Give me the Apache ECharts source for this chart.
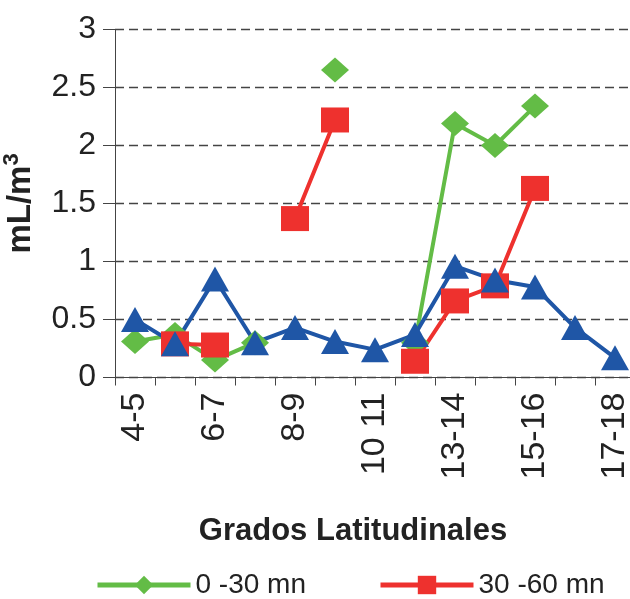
<!DOCTYPE html>
<html>
<head>
<meta charset="utf-8">
<script src="https://cdn.jsdelivr.net/npm/echarts@6/dist/echarts.min.js"></script>
<style>html,body{margin:0;padding:0;background:#fff;}#c{width:630px;height:599px;}</style>
</head>
<body>
<div id="c"></div>
<script>
var categories = ['4-5','5-6','6-7','7-8','8-9','9-10','10 11','12-13','13-14','14-15','15-16','16-17','17-18'];
var green030 = [0.31, 0.37, 0.15, 0.30, null, 2.65, null, 0.30, 2.19, 2.00, 2.34, null, null];
var red3060 = [null, 0.29, 0.28, null, 1.37, 2.22, null, 0.14, 0.66, 0.79, 1.63, null, null];
var blue = [0.50, 0.29, 0.85, 0.30, 0.43, 0.31, 0.24, 0.37, 0.96, 0.84, 0.78, 0.43, 0.17];
var seriesNames = ['0 -30 mn', '30 -60 mn', '60 -90 mn'];
var yTicks = {min: 0, max: 3, interval: 0.5};

var FONT = '"Liberation Sans", Arial, sans-serif';
var chart = echarts.init(document.getElementById('c'), null, {renderer: 'canvas'});
var GREEN = '#63bc46', RED = '#ee312e', BLUE = '#1f56a6';
function mk(name, data, color, symbol) {
  return {
    name: name, type: 'line', data: data, symbol: symbol, symbolSize: [28, 25],
    connectNulls: false,
    lineStyle: {color: color, width: 4},
    itemStyle: {color: color},
    emphasis: {disabled: true}
  };
}
chart.setOption({
  animation: false,
  grid: {left: 115, top: 29.5, width: 520, bottom: 221.5, containLabel: false, outerBoundsMode: 'none'},
  legend: {
    data: [seriesNames[0], seriesNames[1]],
    left: 90, top: 566, itemWidth: 93, itemHeight: 23, itemGap: 72,
    lineStyle: {width: 5},
    textStyle: {fontSize: 28, fontFamily: FONT, color: '#222'}
  },
  xAxis: {
    type: 'category', data: categories, boundaryGap: true,
    axisLine: {lineStyle: {color: '#444', width: 1}},
    axisTick: {show: true, length: 8, interval: 0, lineStyle: {color: '#444'}},
    axisLabel: {interval: 1, rotate: 90, margin: 15, fontSize: 34, fontFamily: FONT, color: '#222'},
    splitLine: {show: false}
  },
  yAxis: {
    type: 'value', min: yTicks.min, max: yTicks.max, interval: yTicks.interval,
    name: '{a|mL/m}{s|3}', nameLocation: 'middle', nameGap: 78,
    nameTextStyle: {fontSize: 33, fontWeight: 'bold', fontFamily: FONT, color: '#222',
      rich: {
        a: {fontSize: 33, fontWeight: 'bold', fontFamily: FONT, color: '#222', lineHeight: 36, verticalAlign: 'bottom'},
        s: {fontSize: 22, fontWeight: 'bold', fontFamily: FONT, color: '#222', lineHeight: 36, verticalAlign: 'top'}
      }},
    axisLine: {show: true, lineStyle: {color: '#444', width: 1}},
    axisTick: {show: true, length: 12, lineStyle: {color: '#444'}},
    axisLabel: {margin: 19, fontSize: 32, fontFamily: FONT, color: '#222'},
    splitLine: {show: true, lineStyle: {color: '#444', width: 1.4, type: [9, 5]}}
  },
  graphic: [{
    type: 'text', x: 353, y: 531,
    style: {text: 'Grados Latitudinales', align: 'center', verticalAlign: 'middle',
      font: 'bold 31px ' + FONT, fill: '#222'}
  }],
  series: [
    mk(seriesNames[0], green030, GREEN, 'diamond'),
    mk(seriesNames[1], red3060, RED, 'rect'),
    mk(seriesNames[2], blue, BLUE, 'triangle')
  ]
});
</script>
</body>
</html>
